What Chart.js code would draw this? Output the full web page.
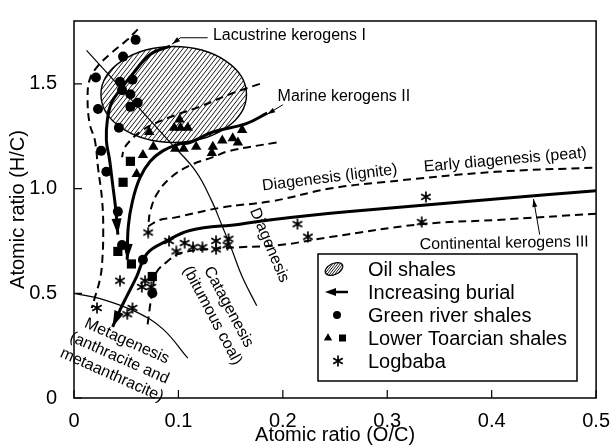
<!DOCTYPE html>
<html lang="en">
<head>
<meta charset="UTF-8">
<title>Van Krevelen diagram</title>
<script src="https://cdn.jsdelivr.net/npm/chart.js@4.4.1/dist/chart.umd.min.js"></script>
<style>
  html, body { margin: 0; padding: 0; background: #fff; }
</style>
</head>
<body>
<canvas id="chart" width="613" height="447"></canvas>
<script>
// axis ticks
const xTicks = [0, 0.1, 0.2, 0.3, 0.4, 0.5];
const yTicks = [0, 0.5, 1.0, 1.5];

// samples (O/C, H/C)
const greenRiverOC = [0.059, 0.047, 0.021, 0.044, 0.056, 0.046, 0.054, 0.061, 0.054, 0.023, 0.043, 0.026, 0.031, 0.042, 0.046, 0.066, 0.075];
const greenRiverHC = [1.71, 1.63, 1.53, 1.51, 1.52, 1.47, 1.45, 1.41, 1.39, 1.38, 1.29, 1.18, 1.08, 0.89, 0.73, 0.66, 0.50];

const toarcianTriOC = [0.101, 0.096, 0.102, 0.109, 0.072, 0.066, 0.076, 0.060, 0.097, 0.105, 0.117, 0.133, 0.132, 0.142, 0.152, 0.157, 0.161];
const toarcianTriHC = [1.33, 1.29, 1.29, 1.29, 1.27, 1.16, 1.20, 1.07, 1.19, 1.19, 1.20, 1.20, 1.17, 1.23, 1.24, 1.22, 1.28];
const toarcianSqOC = [0.054, 0.047, 0.042, 0.055, 0.075];
const toarcianSqHC = [1.13, 1.03, 0.70, 0.64, 0.58];

const logbabaOC = [0.071, 0.091, 0.106, 0.098, 0.114, 0.123, 0.136, 0.136, 0.148, 0.147, 0.214, 0.224, 0.337, 0.333, 0.044, 0.068, 0.065, 0.074, 0.022, 0.056, 0.051];
const logbabaHC = [0.79, 0.75, 0.74, 0.70, 0.72, 0.72, 0.75, 0.71, 0.76, 0.73, 0.83, 0.77, 0.96, 0.84, 0.56, 0.56, 0.53, 0.53, 0.43, 0.43, 0.40];

// evolution paths
const typeIOC = [0.092, 0.073, 0.055, 0.044, 0.036, 0.032, 0.031, 0.034, 0.037, 0.040, 0.042];
const typeIHC = [1.68, 1.64, 1.54, 1.47, 1.41, 1.33, 1.23, 1.14, 1.02, 0.90, 0.78];
const typeIIOC = [0.185, 0.165, 0.133, 0.111, 0.099, 0.085, 0.073, 0.063, 0.056, 0.052, 0.051];
const typeIIHC = [1.36, 1.31, 1.27, 1.22, 1.21, 1.18, 1.13, 1.05, 0.94, 0.82, 0.66];
const typeIIIOC = [0.500, 0.404, 0.264, 0.187, 0.159, 0.111, 0.089, 0.070, 0.060, 0.051, 0.044, 0.037];
const typeIIIHC = [0.99, 0.95, 0.89, 0.85, 0.83, 0.80, 0.75, 0.69, 0.58, 0.49, 0.42, 0.34];

// dashed envelopes
const outerIOC = [0.061, 0.051, 0.034, 0.022, 0.015, 0.013, 0.015, 0.020, 0.023, 0.027, 0.028, 0.027, 0.025, 0.020, 0.017];
const outerIHC = [1.76, 1.71, 1.64, 1.58, 1.52, 1.43, 1.31, 1.23, 1.10, 0.94, 0.79, 0.65, 0.57, 0.48, 0.43];
const innerIOC = [0.178, 0.149, 0.120, 0.097, 0.077, 0.063, 0.054, 0.048, 0.046];
const innerIHC = [1.50, 1.45, 1.39, 1.35, 1.31, 1.27, 1.23, 1.19, 1.15];
const lowerIIOC = [0.194, 0.149, 0.133, 0.111, 0.092, 0.079, 0.073, 0.071];
const lowerIIHC = [1.22, 1.18, 1.15, 1.11, 1.05, 0.97, 0.89, 0.82];
const upperIIIOC = [0.071, 0.082, 0.095, 0.142, 0.190, 0.245, 0.295, 0.404, 0.500];
const upperIIIHC = [0.82, 0.85, 0.86, 0.91, 0.94, 1.00, 1.03, 1.08, 1.10];
const lowerIIIOC = [0.500, 0.404, 0.333, 0.247, 0.197, 0.159, 0.127, 0.101, 0.089, 0.079, 0.075, 0.072, 0.070];
const lowerIIIHC = [0.88, 0.85, 0.83, 0.77, 0.73, 0.72, 0.71, 0.69, 0.65, 0.60, 0.51, 0.41, 0.33];

// stage boundaries
const catagenesisOC = [0.012, 0.094, 0.117, 0.132, 0.142, 0.151, 0.161, 0.175];
const catagenesisHC = [1.66, 1.21, 1.08, 0.94, 0.82, 0.71, 0.58, 0.44];
const metagenesisOC = [0, 0.028, 0.060, 0.085, 0.109];
const metagenesisHC = [0.50, 0.47, 0.41, 0.33, 0.19];

// label leaders
const lacustrineLeaderOC = [0.128, 0.102, 0.094];
const lacustrineLeaderHC = [1.72, 1.72, 1.69];
const marineLeaderOC = [0.200, 0.185];
const marineLeaderHC = [1.40, 1.355];
const continentalLeaderOC = [0.446, 0.440];
const continentalLeaderHC = [0.78, 0.95];

// oil shale field
const oilShaleCentre = [0.0955, 1.449];
const oilShaleRadius = [0.0697, 0.229];

const FONT = '"Liberation Sans", Arial, Helvetica, sans-serif';

const notes = [
    { lines: ['Lacustrine kerogens I'], at: [0.133, 1.729], rot: 0, align: 'left' },
    { lines: ['Marine kerogens II'], at: [0.195, 1.439], rot: 0, align: 'left' },
    { lines: ['Diagenesis (lignite)'], at: [0.245, 1.051], rot: -7 },
    { lines: ['Early diagenesis (peat)'], at: [0.413, 1.136], rot: -5 },
    { lines: ['Continental kerogens III'], at: [0.412, 0.738], rot: -1 },
    { lines: ['Diagenesis'], at: [0.187, 0.729], rot: 67 },
    { lines: ['Catagenesis', '(bitumous coal)'], at: [0.148, 0.435], rot: 62 },
    { lines: ['Metagenesis', '(anthracite and', 'metaanthracite)'], at: [0.0506, 0.271], rot: 24 }
];

const legendItems = ['Oil shales', 'Increasing burial', 'Green river shales', 'Lower Toarcian shales', 'Logbaba'];

function pts(xs, ys) {
    return xs.map((x, i) => ({ x: x, y: ys[i] }));
}

// six-armed asterisk used for Logbaba
function asteriskImage(size, lw) {
    const c = document.createElement('canvas');
    c.width = c.height = size;
    const g = c.getContext('2d');
    g.strokeStyle = '#000';
    g.lineWidth = lw;
    g.lineCap = 'butt';
    const m = size / 2, r = size / 2 - 0.5;
    g.beginPath();
    for (let k = 0; k < 3; k++) {
        const a = Math.PI / 2 + k * Math.PI / 3;
        g.moveTo(m + r * Math.cos(a), m + r * Math.sin(a));
        g.lineTo(m - r * Math.cos(a), m - r * Math.sin(a));
    }
    g.stroke();
    return c;
}
const asterisk = asteriskImage(12, 1.7);

function curve(xs, ys, width, dash, extra) {
    return Object.assign({
        data: pts(xs, ys),
        showLine: true,
        borderColor: '#000',
        borderWidth: width,
        borderDash: dash || [],
        pointRadius: 0,
        pointHoverRadius: 0,
        tension: 0.4,
        fill: false
    }, extra || {});
}

function hatchEllipse(ctx, cx, cy, rx, ry, rot, gap, lw) {
    ctx.save();
    ctx.beginPath();
    ctx.ellipse(cx, cy, rx, ry, rot, 0, Math.PI * 2);
    ctx.save();
    ctx.clip();
    ctx.strokeStyle = '#000';
    ctx.lineWidth = 0.9;
    ctx.beginPath();
    const r = Math.max(rx, ry);
    const k = 0.78;
    for (let x = cx - r * 3; x < cx + r * 3; x += gap) {
        ctx.moveTo(x, cy + r);
        ctx.lineTo(x + 2 * r * k, cy - r);
    }
    ctx.stroke();
    ctx.restore();
    ctx.lineWidth = lw;
    ctx.beginPath();
    ctx.ellipse(cx, cy, rx, ry, rot, 0, Math.PI * 2);
    ctx.stroke();
    ctx.restore();
}

function arrowHead(ctx, x1, y1, x2, y2, len, half) {
    const a = Math.atan2(y2 - y1, x2 - x1);
    const c = Math.cos(a), s = Math.sin(a);
    ctx.beginPath();
    ctx.moveTo(x2, y2);
    ctx.lineTo(x2 - len * c + half * s, y2 - len * s - half * c);
    ctx.lineTo(x2 - len * c - half * s, y2 - len * s + half * c);
    ctx.closePath();
    ctx.fill();
}

const figurePlugin = {
    id: 'figure',
    beforeDatasetsDraw(chart) {
        const sx = chart.scales.x, sy = chart.scales.y;
        const cx = sx.getPixelForValue(oilShaleCentre[0]);
        const cy = sy.getPixelForValue(oilShaleCentre[1]);
        const rx = sx.getPixelForValue(oilShaleCentre[0] + oilShaleRadius[0]) - cx;
        const ry = cy - sy.getPixelForValue(oilShaleCentre[1] + oilShaleRadius[1]);
        hatchEllipse(chart.ctx, cx, cy, rx, ry, 0, 4.5, 1.4);
    },
    afterDatasetsDraw(chart) {
        const ctx = chart.ctx;
        const sx = chart.scales.x, sy = chart.scales.y;
        const area = chart.chartArea;
        ctx.save();
        ctx.fillStyle = '#000';
        ctx.strokeStyle = '#000';

        // arrowheads at the ends of paths
        chart.data.datasets.forEach((ds, i) => {
            if (!ds.arrow) return;
            const pts = chart.getDatasetMeta(i).data;
            const last = pts[pts.length - 1];
            let fx = pts[pts.length - 2].x, fy = pts[pts.length - 2].y;
            if (ds.tension && last.cp1x !== undefined) { fx = last.cp1x; fy = last.cp1y; }
            arrowHead(ctx, fx, fy, last.x, last.y, ds.arrow[0], ds.arrow[1]);
        });

        // frame and inward ticks
        ctx.lineWidth = 1.5;
        ctx.strokeRect(area.left, area.top, area.right - area.left, area.bottom - area.top);
        ctx.lineWidth = 1.2;
        ctx.beginPath();
        xTicks.forEach(v => {
            const x = sx.getPixelForValue(v);
            ctx.moveTo(x, area.bottom);
            ctx.lineTo(x, area.bottom - 8);
        });
        yTicks.forEach(v => {
            const y = sy.getPixelForValue(v);
            ctx.moveTo(area.left, y);
            ctx.lineTo(area.left + 8, y);
        });
        ctx.stroke();

        // annotations
        ctx.font = '16px ' + FONT;
        ctx.textBaseline = 'middle';
        notes.forEach(n => {
            ctx.save();
            ctx.translate(sx.getPixelForValue(n.at[0]), sy.getPixelForValue(n.at[1]));
            ctx.rotate(n.rot * Math.PI / 180);
            ctx.textAlign = n.align || 'center';
            n.lines.forEach((t, i) => ctx.fillText(t, 0, i * 18.5));
            ctx.restore();
        });

        // legend box
        const bl = 318, bt = 254, bw = 259, bh = 127;
        ctx.fillStyle = '#fff';
        ctx.fillRect(bl, bt, bw, bh);
        ctx.fillStyle = '#000';
        ctx.lineWidth = 1.5;
        ctx.strokeRect(bl, bt, bw, bh);
        const row = i => bt + 15 + 23 * i;
        hatchEllipse(ctx, bl + 16, row(0), 9.5, 5.5, -0.45, 2.6, 1.2);
        ctx.lineWidth = 2.5;
        ctx.beginPath();
        ctx.moveTo(bl + 30, row(1));
        ctx.lineTo(bl + 14, row(1));
        ctx.stroke();
        arrowHead(ctx, bl + 20, row(1), bl + 7, row(1), 11, 4);
        ctx.beginPath();
        ctx.arc(bl + 19, row(2), 4, 0, Math.PI * 2);
        ctx.fill();
        Chart.helpers.drawPoint(ctx, { pointStyle: 'triangle', radius: 4.5, borderWidth: 0 }, bl + 10, row(3));
        ctx.fill();
        ctx.fillRect(bl + 21, row(3) - 3.5, 7, 7);
        ctx.drawImage(asterisk, bl + 20 - 6, row(4) - 6);
        ctx.font = '20px ' + FONT;
        ctx.textAlign = 'left';
        ctx.textBaseline = 'middle';
        legendItems.forEach((t, i) => ctx.fillText(t, bl + 50, row(i) + 1));
        ctx.restore();
    }
};

const axisFont = { family: FONT, size: 20 };

new Chart(document.getElementById('chart'), {
    type: 'scatter',
    data: {
        datasets: [
            { data: pts(greenRiverOC, greenRiverHC), pointStyle: 'circle', pointRadius: 5, backgroundColor: '#000', borderColor: '#000', borderWidth: 0 },
            { data: pts(toarcianTriOC, toarcianTriHC), pointStyle: 'triangle', pointRadius: 6, backgroundColor: '#000', borderColor: '#000', borderWidth: 0 },
            { data: pts(toarcianSqOC, toarcianSqHC), pointStyle: 'rect', pointRadius: 6.5, backgroundColor: '#000', borderColor: '#000', borderWidth: 0 },
            { data: pts(logbabaOC, logbabaHC), pointStyle: asterisk, pointRadius: 6 },
            curve(typeIOC, typeIHC, 3, null, { arrow: [16, 5] }),
            curve(typeIIOC, typeIIHC, 3, null, { arrow: [16, 5] }),
            curve(typeIIIOC, typeIIIHC, 3, null, { arrow: [16, 5] }),
            curve(outerIOC, outerIHC, 2, [8, 5]),
            curve(innerIOC, innerIHC, 2, [8, 5]),
            curve(lowerIIOC, lowerIIHC, 2, [8, 5]),
            curve(upperIIIOC, upperIIIHC, 2, [8, 5]),
            curve(lowerIIIOC, lowerIIIHC, 2, [8, 5]),
            curve(catagenesisOC, catagenesisHC, 1.2),
            curve(metagenesisOC, metagenesisHC, 1.2),
            curve(lacustrineLeaderOC, lacustrineLeaderHC, 1, null, { tension: 0, arrow: [8, 2.5] }),
            curve(marineLeaderOC, marineLeaderHC, 1, null, { tension: 0, arrow: [8, 2.5] }),
            curve(continentalLeaderOC, continentalLeaderHC, 1, null, { tension: 0, arrow: [8, 2.5] })
        ]
    },
    options: {
        responsive: false,
        animation: false,
        devicePixelRatio: 1,
        layout: { padding: { top: 13, right: 15, left: 0, bottom: 0 } },
        plugins: { legend: { display: false }, tooltip: { enabled: false } },
        scales: {
            x: {
                type: 'linear',
                min: 0,
                max: 0.5,
                afterBuildTicks: s => { s.ticks = xTicks.map(v => ({ value: v })); },
                afterFit: s => { s.height = 49; },
                grid: { display: false },
                border: { display: false },
                ticks: {
                    autoSkip: false,
                    maxRotation: 0,
                    padding: 3,
                    color: '#000',
                    font: axisFont,
                    callback: v => v === 0 ? '0' : v.toFixed(1)
                },
                title: { display: true, text: 'Atomic ratio (O/C)', color: '#000', font: axisFont, padding: 0 }
            },
            y: {
                type: 'linear',
                min: 0,
                max: 1.8,
                afterBuildTicks: s => { s.ticks = yTicks.map(v => ({ value: v })); },
                afterFit: s => { s.width = 74; },
                grid: { display: false },
                border: { display: false },
                ticks: {
                    autoSkip: false,
                    padding: 9,
                    color: '#000',
                    font: axisFont,
                    callback: v => v === 0 ? '0' : v.toFixed(1)
                },
                title: { display: true, text: 'Atomic ratio (H/C)', color: '#000', font: axisFont, padding: { top: 6, bottom: 0 } }
            }
        }
    },
    plugins: [figurePlugin]
});
</script>
</body>
</html>
